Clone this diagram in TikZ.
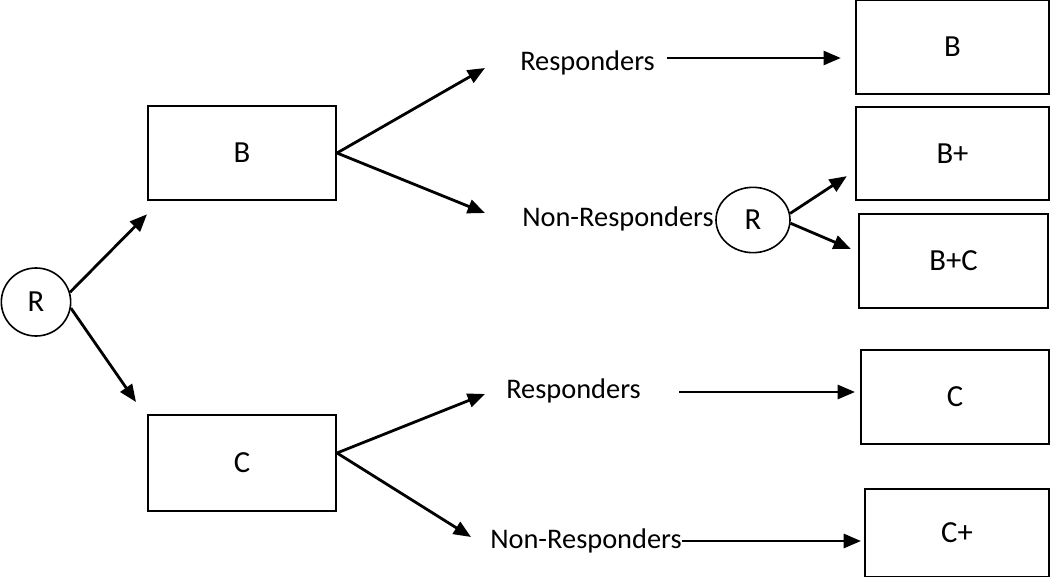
\documentclass[tikz,border=0pt]{standalone}
\usepackage{fontspec}
\setmainfont{Carlito}
\usetikzlibrary{arrows.meta,calc,shapes.geometric}
\tikzstyle{arm}=[
	rectangle,
	draw,
	line width=1.5pt,
	minimum width=141pt,
	minimum height=71pt,
	inner sep=0pt,
	font=\fontsize{23}{27}\selectfont
]
\tikzstyle{rand}=[
	ellipse,
	draw,
	line width=1.2pt,
	inner sep=0pt,
	font=\fontsize{23}{27}\selectfont
]
\tikzstyle{group}=[
	inner sep=0pt,
	anchor=west,
	font=\fontsize{21.3}{25}\selectfont
]
\tikzstyle{flow}=[
	-{Triangle[length=13pt,width=10.5pt]},
	line width=2.1pt
]
\begin{document}
\begin{tikzpicture}[x=0.75pt,y=-0.75pt]
\useasboundingbox (0,0) rectangle (1050,577);
% first randomisation
\node [rand, minimum width=52pt, minimum height=51pt] (R) at (36,302) {R};
\node [arm] (B) at (242,153) {B};
\node [arm, minimum height=72pt] (C) at (242,463) {C};
% response groups
\node [group] (RespB) at (520,63) {Responders};
\node [group] (NonB) at (522,219) {Non-Responders};
\node [rand, minimum width=55.5pt, minimum height=49pt] (R2) at (753,220) {R};
\node [group] (RespC) at (506,391) {Responders};
\node [group] (NonC) at (490,541) {Non-Responders};
% second stage
\node [arm, minimum width=145pt, minimum height=70pt] (BR) at (952.5,47) {B};
\node [arm, minimum width=145pt, minimum height=70pt] (BP) at (952.5,153.5) {B+};
\node [arm, minimum width=142pt, minimum height=70.5pt] (BC) at (953.5,261) {B+C};
\node [arm, minimum width=141pt, minimum height=70.5pt] (CR) at (955,397) {C};
\node [arm, minimum width=138pt, minimum height=66pt] (CP) at (957,533) {C+};

\draw [flow] (R.16) -- ($(B.south west)+(0,13)$);
\draw [flow] (R.-10) -- ($(C.north west)+(-11,-12)$);
\draw [flow] (B.east) -- ($(RespB.west)+(-35,5)$);
\draw [flow] (B.east) -- ($(NonB.west)+(-37,-6)$);
\draw [flow] ($(RespB.east)+(12,-5)$) -- ($(BR.west)+(-14,11)$);
\draw [flow] (R2.10) -- ($(BP.south west)+(-8,-25)$);
\draw [flow] (R2.-5) -- ($(BC.west)+(-7,-12)$);
\draw [flow] ($(C.east)+(0,-10)$) -- ($(RespC.west)+(-21,3)$);
\draw [flow] ($(C.east)+(0,-10)$) -- ($(NonC.west)+(-19,-4)$);
\draw [flow] ($(RespC.east)+(38,1)$) -- ($(CR.west)+(-5,-5)$);
\draw [flow] (NonC.east) -- ($(CP.west)+(-3,8)$);
\end{tikzpicture}
\end{document}
